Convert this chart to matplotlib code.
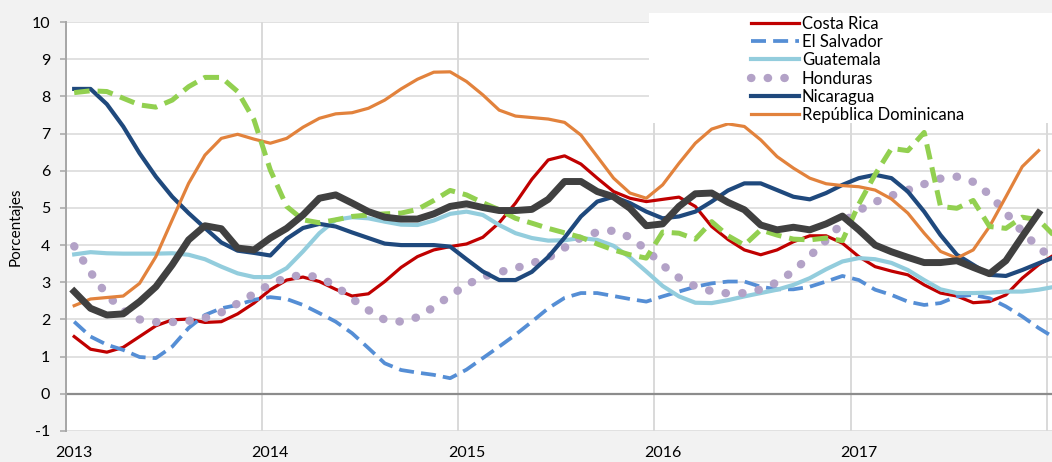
import matplotlib
matplotlib.use("Agg")
import matplotlib.pyplot as plt
from matplotlib.patches import Rectangle
import numpy as np

plt.rcParams['font.family'] = ['Lato', 'DejaVu Sans']

years = ["2013", "2014", "2015", "2016", "2017"]

costa_rica = [1.54, 1.20, 1.12, 1.25, 1.54, 1.83, 1.99, 2.01, 1.92, 1.94, 2.15, 2.44, 2.80, 3.06, 3.14,
              3.02, 2.81, 2.63, 2.69, 3.02, 3.40, 3.69, 3.87, 3.96, 4.03, 4.21, 4.60, 5.13, 5.77, 6.29,
              6.40, 6.18, 5.80, 5.44, 5.26, 5.17, 5.23, 5.29, 5.04, 4.50, 4.15, 3.87, 3.74, 3.87, 4.09,
              4.25, 4.25, 4.05, 3.69, 3.42, 3.30, 3.20, 2.93, 2.71, 2.63, 2.45, 2.48, 2.66, 3.11, 3.47, 3.75]

el_salvador = [1.94, 1.54, 1.32, 1.18, 0.99, 0.96, 1.27, 1.77, 2.12, 2.30, 2.39, 2.53, 2.60, 2.55, 2.39,
               2.17, 1.94, 1.63, 1.23, 0.82, 0.64, 0.57, 0.51, 0.42, 0.65, 0.96, 1.27, 1.59, 1.94, 2.30,
               2.58, 2.71, 2.71, 2.63, 2.55, 2.48, 2.62, 2.75, 2.88, 2.97, 3.02, 3.02, 2.88, 2.81, 2.81,
               2.88, 3.02, 3.17, 3.06, 2.80, 2.66, 2.48, 2.39, 2.44, 2.62, 2.66, 2.57, 2.35, 2.08, 1.77, 1.50]

guatemala = [3.75, 3.81, 3.78, 3.77, 3.77, 3.77, 3.78, 3.74, 3.62, 3.42, 3.24, 3.14, 3.14, 3.38, 3.83,
             4.32, 4.68, 4.75, 4.72, 4.63, 4.55, 4.54, 4.66, 4.84, 4.90, 4.81, 4.54, 4.32, 4.19, 4.12,
             4.13, 4.19, 4.14, 3.98, 3.67, 3.29, 2.90, 2.62, 2.45, 2.44, 2.52, 2.62, 2.71, 2.80, 2.93,
             3.11, 3.35, 3.56, 3.65, 3.62, 3.52, 3.33, 3.06, 2.81, 2.71, 2.71, 2.72, 2.75, 2.75, 2.80, 2.88]

honduras = [3.97, 3.27, 2.66, 2.24, 2.00, 1.93, 1.93, 1.96, 2.04, 2.19, 2.43, 2.69, 2.95, 3.13, 3.20,
            3.13, 2.90, 2.56, 2.25, 1.99, 1.94, 2.06, 2.33, 2.64, 2.93, 3.15, 3.27, 3.38, 3.51, 3.66,
            3.93, 4.20, 4.35, 4.39, 4.21, 3.88, 3.46, 3.12, 2.89, 2.76, 2.70, 2.71, 2.81, 3.00, 3.30,
            3.70, 4.13, 4.60, 4.93, 5.16, 5.33, 5.48, 5.64, 5.79, 5.84, 5.70, 5.36, 4.87, 4.36, 3.93, 3.60]

nicaragua = [8.20, 8.20, 7.79, 7.19, 6.47, 5.84, 5.30, 4.86, 4.46, 4.07, 3.85, 3.79, 3.72, 4.17, 4.46,
             4.57, 4.50, 4.34, 4.19, 4.04, 4.00, 4.00, 4.00, 3.96, 3.62, 3.29, 3.06, 3.06, 3.28, 3.68,
             4.20, 4.77, 5.17, 5.30, 5.13, 4.90, 4.72, 4.77, 4.90, 5.17, 5.47, 5.66, 5.66, 5.48, 5.30,
             5.23, 5.40, 5.62, 5.80, 5.89, 5.80, 5.44, 4.90, 4.27, 3.74, 3.47, 3.20, 3.17, 3.33, 3.51, 3.68]

rep_dominicana = [2.37, 2.55, 2.59, 2.63, 2.97, 3.69, 4.68, 5.66, 6.42, 6.87, 6.98, 6.85, 6.74, 6.87, 7.17,
                  7.41, 7.53, 7.56, 7.68, 7.90, 8.20, 8.46, 8.65, 8.66, 8.40, 8.04, 7.63, 7.47, 7.43, 7.39,
                  7.30, 6.96, 6.38, 5.80, 5.40, 5.26, 5.62, 6.20, 6.74, 7.12, 7.26, 7.19, 6.83, 6.38, 6.07,
                  5.80, 5.65, 5.60, 5.57, 5.48, 5.24, 4.86, 4.32, 3.83, 3.65, 3.87, 4.50, 5.30, 6.11, 6.54]

otro_verde = [8.10, 8.15, 8.13, 7.95, 7.77, 7.71, 7.90, 8.26, 8.51, 8.51, 8.13, 7.37, 6.02, 5.04, 4.68,
              4.60, 4.68, 4.77, 4.81, 4.84, 4.86, 4.96, 5.20, 5.47, 5.35, 5.14, 4.95, 4.72, 4.59, 4.45,
              4.33, 4.21, 4.03, 3.87, 3.74, 3.65, 4.35, 4.32, 4.16, 4.63, 4.25, 4.00, 4.41, 4.27, 4.16,
              4.14, 4.19, 4.12, 5.10, 5.90, 6.60, 6.54, 7.03, 5.04, 4.99, 5.20, 4.50, 4.45, 4.75, 4.68, 4.23]

promedio = [2.75, 2.30, 2.12, 2.15, 2.48, 2.88, 3.47, 4.14, 4.52, 4.44, 3.92, 3.87, 4.19, 4.45, 4.81,
            5.26, 5.35, 5.13, 4.90, 4.75, 4.70, 4.70, 4.84, 5.04, 5.11, 5.01, 4.93, 4.93, 4.96, 5.23,
            5.71, 5.71, 5.44, 5.30, 4.99, 4.52, 4.57, 5.04, 5.38, 5.40, 5.15, 4.95, 4.54, 4.41, 4.48,
            4.41, 4.57, 4.78, 4.41, 4.00, 3.82, 3.67, 3.53, 3.53, 3.58, 3.40, 3.23, 3.58, 4.23, 4.86]

W, H = 1052, 462
fig = plt.figure(figsize=(W / 100, H / 100), dpi=100, facecolor="#F2F2F2")
ax = fig.add_axes([66 / W, (H - 431) / H, 1 - 66 / W, (431 - 22) / H])
ax.set_facecolor("white")


def xs(v):
    return np.arange(len(v)) + 0.5


series = [
    ("Costa Rica", costa_rica, dict(color="#C00000", lw=2.3)),
    ("El Salvador", el_salvador, dict(color="#558ED5", lw=2.7, ls=(0, (4.0, 1.9)))),
    ("Guatemala", guatemala, dict(color="#93CDDD", lw=3.0)),
    ("Honduras", honduras, dict(color="#B3A2C7", lw=6.0, ls=(0, (0.05, 1.95)),
                                dash_capstyle="round")),
    ("Nicaragua", nicaragua, dict(color="#1F497D", lw=3.0)),
    ("República Dominicana", rep_dominicana, dict(color="#E2823C", lw=2.3)),
]
handles = []
for name, vals, kw in series:
    ln, = ax.plot(xs(vals), vals, label=name, zorder=3, **kw)
    handles.append(ln)

ax.plot(xs(otro_verde), otro_verde, color="#92D050", lw=3.6, ls=(0, (3.1, 1.6)), zorder=3)
ax.plot(xs(promedio), promedio, color="#404040", lw=5.0, zorder=4)

ax.set_xlim(0, 60.32)
ax.set_ylim(-1, 10)
ax.set_yticks(range(-1, 11))
ax.set_yticklabels([str(v) for v in range(-1, 11)])
ax.set_xticks([0, 12, 24, 36, 48, 60])
ax.set_xticklabels([])
ax.set_xticks([0.5, 12.5, 24.5, 36.5, 48.5], minor=True)
ax.set_xticklabels(years, minor=True)
ax.tick_params(axis="x", which="both", length=0)
ax.tick_params(axis="x", which="minor", pad=11, labelsize=11.5)
ax.tick_params(axis="y", length=4.3, color="#A6A6A6", width=1.1, pad=7, labelsize=11.5)
ax.grid(axis="y", color="#D9D9D9", lw=1.1, zorder=0)
ax.grid(axis="x", which="major", color="#D0D0D0", lw=1.1, zorder=0)
ax.axhline(0, color="#8C8C8C", lw=1.6, zorder=1.5)
for s in ("top", "right", "bottom"):
    ax.spines[s].set_visible(False)
ax.spines["left"].set_color("#A6A6A6")
ax.spines["left"].set_linewidth(1.4)
ax.set_axisbelow(True)

ax.set_ylabel("Porcentajes", fontsize=11, va="center")
ax.yaxis.set_label_coords((16 - 66) / 986, 0.5)

fig.patches.append(Rectangle((649 / W, (H - 123) / H), (W - 649) / W, 110 / H,
                             transform=fig.transFigure, facecolor="white", edgecolor="none", zorder=1))
fig.legend(handles=handles, loc="upper left", bbox_to_anchor=(751 / W, 1 - 16 / H),
           frameon=False, borderpad=0, borderaxespad=0, handlelength=2.9, handletextpad=0.15,
           labelspacing=0.13, fontsize=12)

fig.savefig("out.png", dpi=100, facecolor=fig.get_facecolor())
